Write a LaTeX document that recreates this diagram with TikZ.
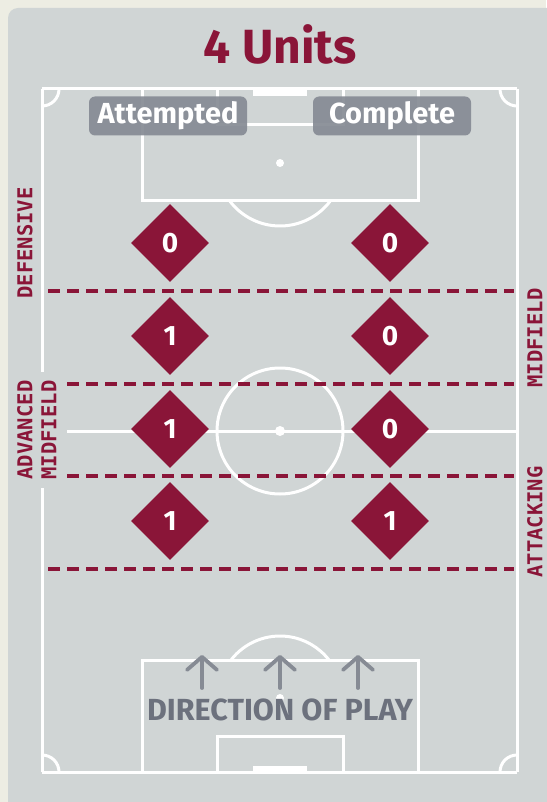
\documentclass[tikz,border=0pt]{standalone}
\usepackage{fontspec}
\setmainfont{Fira Sans}
\newfontfamily\sidefont{DejaVu Sans Mono}
\usetikzlibrary{shapes.geometric,arrows.meta}

\definecolor{maroon}{HTML}{8A1538}
\definecolor{panel}{HTML}{D0D5D5}
\definecolor{paper}{HTML}{EDEDE3}
\definecolor{slate}{HTML}{868B94}
\definecolor{ink}{HTML}{6C717D}

\tikzset{
  pitch/.style={white, line width=3pt},
  zone/.style={maroon, line width=3.5pt, dash pattern=on 12pt off 7pt},
  count/.style={diamond, fill=maroon, text=white, minimum width=78pt,
    minimum height=78pt, inner sep=0pt,
    font=\fontsize{28}{28}\selectfont\bfseries},
  tag/.style={fill=slate, fill opacity=0.92, text opacity=1, text=white,
    rounded corners=6pt, minimum width=158pt, minimum height=39pt,
    inner sep=0pt, font=\fontsize{29}{29}\selectfont\bfseries},
  side/.style={maroon, rotate=90, inner sep=0pt, align=center,
    font=\sidefont\bfseries\fontsize{20.5}{24}\selectfont},
  play/.style={slate, line width=3.8pt, line cap=round,
    -{Straight Barb[length=13pt,width=30pt,round]}}
}

\begin{document}
\begin{tikzpicture}[x=1pt,y=-1pt]

  \useasboundingbox (0,0) rectangle (546,802);
  \fill[paper] (0,0) rectangle (546,802);
  \fill[panel, rounded corners=10pt] (8,8) rectangle (570,830);

  % pitch markings
  \draw[pitch] (42,89) -- (517,89);
  \draw[pitch] (42,772) -- (517,772);
  \draw[pitch] (42,89) -- (42,372);
  \draw[pitch] (42,488) -- (42,772);
  \draw[pitch] (517,89) -- (517,772);
  \draw[pitch] (67,431) -- (517,431);
  \draw[pitch] (280,431) circle (63);
  \fill[white] (280,431) circle (5);

  % top end
  \draw[pitch] (142,89) -- (142,201) -- (418,201) -- (418,89);
  \draw[pitch] (217,89) -- (217,125) -- (343,125) -- (343,89);
  \fill[white] (253,89) rectangle (307,96);
  \fill[white] (280,163) circle (4);
  \draw[pitch] (280,163) ++(37:63) arc (37:143:63);

  % bottom end
  \draw[pitch] (142,772) -- (142,660) -- (418,660) -- (418,772);
  \draw[pitch] (217,772) -- (217,736) -- (343,736) -- (343,772);
  \fill[white] (253,766) rectangle (307,772);
  \fill[white] (280,698) circle (4);
  \draw[pitch] (280,698) ++(218:62) arc (218:322:62);

  % corners
  \draw[pitch] (59,89) arc (0:90:17);
  \draw[pitch] (517,106) arc (90:180:17);
  \draw[pitch] (42,755) arc (270:360:17);
  \draw[pitch] (500,772) arc (180:270:17);

  % zone lines
  \draw[zone] (48,291) -- (514,291);
  \draw[zone] (67,384) -- (514,384);
  \draw[zone] (67,476) -- (514,476);
  \draw[zone] (48,569) -- (514,569);

  \node[anchor=base, maroon, font=\fontsize{48}{48}\selectfont\bfseries]
    (title) at (280,64) {4 Units};
  \node[tag] (attempted) at (168,116) {Attempted};
  \node[tag] (complete) at (392,116) {Complete};

  % counts per zone
  \foreach \y/\a/\c [count=\i] in {243/0/0, 336/1/0, 429/1/0, 521/1/1} {
    \node[count] (att\i) at (170,\y) {\a};
    \node[count] (cmp\i) at (390,\y) {\c};
  }

  \node[side] (defensive) at (25,243) {DEFENSIVE};
  \node[side] (advanced) at (25,430) {ADVANCED};
  \node[side] (advmid) at (49,430) {MIDFIELD};
  \node[side] (midfield) at (535,338) {MIDFIELD};
  \node[side] (attacking) at (535,522) {ATTACKING};

  % direction of play
  \foreach \x [count=\i] in {202,280,358} {
    \coordinate (tail\i) at (\x,688);
    \coordinate (tip\i) at (\x,655);
    \draw[play] (tail\i) -- (tip\i);
  }
  \node[anchor=base, ink, font=\fontsize{30.5}{30.5}\selectfont\bfseries]
    (direction) at (280,720) {DIRECTION OF PLAY};

\end{tikzpicture}
\end{document}
